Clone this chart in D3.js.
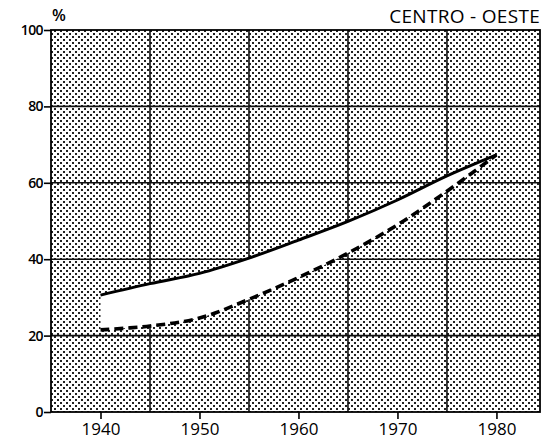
<!DOCTYPE html>
<html><head><meta charset="utf-8">
<script src="https://cdn.jsdelivr.net/npm/d3@7"></script>
<style>body{margin:0;background:#fff}svg{display:block}</style>
</head><body>
<svg id="c" width="550" height="446"></svg>
<script>
// ---- data ----
const years = [1940, 1945, 1950, 1955, 1960, 1965, 1970, 1975, 1980];
const upperSeries = [30.6, 33.6, 36.3, 40.3, 45.0, 49.9, 55.5, 61.8, 67.3];   // solid line
const lowerSeries = [21.5, 22.5, 24.6, 29.5, 35.2, 41.6, 49.0, 57.8, 67.3];   // dashed line
const xTickLabels = [1940, 1950, 1960, 1970, 1980];
const xGridYears = [1945, 1955, 1965, 1975];
const yTickLabels = [0, 20, 40, 60, 80, 100];
const yGridValues = [20, 40, 60, 80];
const title = "CENTRO - OESTE";
const unitLabel = "%";

// ---- layout ----
const svg = d3.select("#c");
const x = d3.scaleLinear().domain([1935, 1984.4]).range([51, 540]);
const y = d3.scaleLinear().domain([0, 100]).range([412, 30]);
const font = "'Open Sans', Lato, 'DejaVu Sans', sans-serif";

// halftone dot pattern
const defs = svg.append("defs");
const pat = defs.append("pattern").attr("id", "dots").attr("patternUnits", "userSpaceOnUse")
  .attr("width", 6).attr("height", 6);
pat.append("rect").attr("width", 6).attr("height", 6).attr("fill", "#fff");
pat.append("rect").attr("x", 0).attr("y", 0).attr("width", 2).attr("height", 2).attr("fill", "#222");
pat.append("rect").attr("x", 3).attr("y", 3).attr("width", 2).attr("height", 2).attr("fill", "#222");

const [x0, x1] = x.range();
const [yb, yt] = y.range();

svg.append("rect").attr("x", x0).attr("y", yt).attr("width", x1 - x0).attr("height", yb - yt)
  .attr("fill", "url(#dots)");

// grid
svg.append("g").selectAll("line").data(xGridYears).join("line")
  .attr("x1", d => x(d)).attr("x2", d => x(d)).attr("y1", yt).attr("y2", yb)
  .attr("stroke", "#111").attr("stroke-width", 1.6);
svg.append("g").selectAll("line").data(yGridValues).join("line")
  .attr("x1", x0).attr("x2", x1).attr("y1", d => y(d)).attr("y2", d => y(d))
  .attr("stroke", "#111").attr("stroke-width", 1.6);

// white band between series
const pts = years.map((yr, i) => ({yr, hi: upperSeries[i], lo: lowerSeries[i]}));
const curve = d3.curveCatmullRom.alpha(0.5);
svg.append("path").datum(pts)
  .attr("d", d3.area().x(d => x(d.yr)).y0(d => y(d.lo)).y1(d => y(d.hi)).curve(curve))
  .attr("fill", "#fff");

// lines
svg.append("path").datum(pts)
  .attr("d", d3.line().x(d => x(d.yr)).y(d => y(d.hi)).curve(curve))
  .attr("fill", "none").attr("stroke", "#000").attr("stroke-width", 3);
svg.append("path").datum(pts)
  .attr("d", d3.line().x(d => x(d.yr)).y(d => y(d.lo)).curve(curve))
  .attr("fill", "none").attr("stroke", "#000").attr("stroke-width", 3.6)
  .attr("stroke-dasharray", "9,5");

// frame
svg.append("rect").attr("x", x0).attr("y", yt).attr("width", x1 - x0).attr("height", yb - yt)
  .attr("fill", "none").attr("stroke", "#000").attr("stroke-width", 1.8);

// axes
const xAxis = d3.axisBottom(x).tickValues(xTickLabels).tickSize(7).tickPadding(4).tickFormat(d3.format("d"));
const gx = svg.append("g").attr("transform", `translate(0,${yb})`).call(xAxis);
gx.select(".domain").remove();
gx.selectAll("line").attr("stroke", "#000").attr("stroke-width", 1.6);
gx.selectAll("text").attr("font-family", font).attr("font-size", 17).attr("font-weight", 500).attr("fill", "#000");

const yAxis = d3.axisLeft(y).tickValues(yTickLabels).tickSize(7).tickPadding(1);
const gy = svg.append("g").attr("transform", `translate(${x0},0)`).call(yAxis);
gy.select(".domain").remove();
gy.selectAll("line").attr("stroke", "#000").attr("stroke-width", 1.6);
gy.selectAll("text").attr("font-family", font).attr("font-size", 14).attr("font-weight", 600)
  .attr("letter-spacing", -0.6).attr("fill", "#000");

svg.append("text").attr("x", x0 + 1).attr("y", 21).text(unitLabel)
  .attr("font-family", font).attr("font-size", 16).attr("font-weight", 600);
svg.append("text").attr("x", x1).attr("y", 23).attr("text-anchor", "end").text(title)
  .attr("font-family", font).attr("font-size", 19).attr("font-weight", 500)
  .attr("letter-spacing", 0.3);
</script>
</body></html>
